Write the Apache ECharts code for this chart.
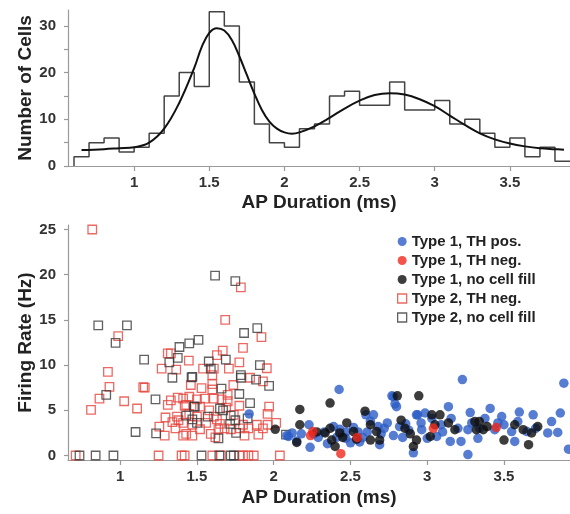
<!DOCTYPE html>
<html><head><meta charset="utf-8">
<script src="https://cdn.jsdelivr.net/npm/echarts@6/dist/echarts.min.js"></script>
<style>html,body{margin:0;padding:0;background:#fff}#c{width:570px;height:514px}</style>
</head><body><div id="c"></div>
<script>
// ---------- Histogram (top) ----------
const binStart = [0.6,0.7,0.8,0.9,1.0,1.1,1.2,1.3,1.4,1.5,1.6,1.7,1.8,1.9,2.0,2.1,2.2,2.3,2.4,2.5,2.6,2.7,2.8,2.9,3.0,3.1,3.2,3.3,3.4,3.5,3.6,3.7,3.8];
const binCounts = [2,5,6,3,4,7,15,20,17,33,30,18,9,5,4,8,9,15,16,13,13,18,12,12,14,9,10,7,4,6,2,4,1];
const binWidth = 0.1;
const fitX = [0.65,0.8,0.9,1.0,1.1,1.2,1.3,1.4,1.45,1.5,1.55,1.6,1.65,1.7,1.75,1.8,1.85,1.9,1.95,2.0,2.05,2.1,2.2,2.3,2.4,2.5,2.6,2.7,2.8,2.9,3.0,3.1,3.2,3.3,3.4,3.5,3.6,3.7,3.8,3.86];
const fitY = [3.4,3.6,3.8,4.0,5.0,8.0,13.5,21,25.5,28.5,29.5,29,27,23.5,19.5,15.5,12,9.5,8,7.2,6.9,7.2,8.5,10.3,12.3,14.0,15.2,15.6,15.3,14.3,12.8,10.8,8.8,7.0,5.7,4.8,4.2,3.8,3.6,3.5];
const histYTicks = [0,10,20,30];
const histYMinor = [0,5,10,15,20,25,30];
const xTicks = [1,1.5,2,2.5,3,3.5];
const scatterYTicks = [0,5,10,15,20,25];

// ---------- Scatter (bottom) ----------
const type1THpos = [[1.84,4.6],[2.085,2.2],[2.426,7.3],[2.096,2.1],[2.18,2.4],[2.237,0.9],[2.23,3.4],[2.29,2.0],[2.39,3.2],[2.41,2.0],[2.47,2.6],[2.5,1.4],[2.56,1.5],[2.61,2.6],[2.65,4.5],[2.68,3.2],[2.69,1.2],[2.72,3.0],[2.78,6.5],[2.8,5.4],[2.78,2.2],[2.82,3.2],[2.86,3.5],[2.93,4.5],[2.91,0.3],[2.55,2.6],[2.58,2.0],[2.33,2.6],[2.26,2.4],
 [2.938,4.5],[2.986,4.7],[2.964,2.85],[3.03,4.1],[3.062,2.1],[3.138,5.4],[3.156,4.1],[3.2,3.0],[3.15,1.55],[3.22,1.55],[3.28,4.75],[3.265,2.85],[3.29,3.6],[3.33,1.9],[3.376,4.1],[3.41,5.2],[3.44,2.85],[3.485,4.3],[3.57,1.55],[3.55,2.65],[3.59,3.75],[3.69,4.5],[3.65,2.65],[3.706,3.0],[3.785,2.5],[3.81,3.75],[3.85,2.55],[3.867,4.7],[3.265,0.1],[3.229,8.4],[3.89,8.0],[2.77,6.6],[2.79,5.7],
 [2.6,4.5],[2.63,3.8],[2.7,2.4],[2.74,3.6],[2.84,2.0],[2.88,2.8],[2.47,1.9],[2.35,1.3],[2.12,2.5],[2.15,1.6],[2.43,2.9],[2.52,3.1],[2.96,3.6],[3.0,1.9],[3.1,2.6],[3.34,3.0],[3.46,3.6],[3.09,3.4],[3.6,4.8],[3.5,3.4],[3.92,0.7]];
const type1THneg = [[2.255,2.65],[2.24,2.2],[2.437,0.2],[2.545,2.0],[3.04,3.0],[3.45,3.1]];
const type1NoFill = [[2.01,2.9],[2.17,5.1],[2.367,5.8],[2.17,3.4],[2.15,1.45],[2.335,2.5],[2.367,3.0],[2.378,1.7],[2.43,2.5],[2.476,3.6],[2.52,2.65],[2.54,1.8],[2.595,4.9],[2.63,3.4],[2.63,1.7],[2.67,2.65],[2.69,1.7],[2.805,6.6],[2.83,3.9],[2.855,3.0],[2.89,2.4],[2.93,1.7],[2.91,1.0],[2.945,6.6],[3.03,4.5],[3.083,4.5],[3.138,3.6],[3.05,3.4],[3.02,2.1],[3.18,2.85],[3.31,3.75],[3.34,3.75],[3.365,2.85],[3.32,2.85],[3.39,3.2],[3.5,1.7],[3.57,3.4],[3.625,2.85],[3.68,2.5],[3.72,3.2],[3.66,1.2],[2.45,2.0],[2.28,2.6],[2.4,1.0]];
const type2THneg = [[0.818,25.0],[0.987,13.2],[0.92,9.25],[0.93,7.6],[0.865,6.3],[0.81,5.05],[1.026,6.0],[1.11,5.2],[1.15,7.55],[1.16,7.5],[0.71,0],[1.25,0],[1.40,0],[1.42,0],[1.31,11.3],[1.33,11.3],[1.27,9.6],[1.365,9.5],[1.447,10.5],[1.295,4.2],[1.255,3.2],[1.29,2.2],[1.31,5.6],[1.33,6.1],[1.375,6.4],[1.34,3.7],[1.38,3.9],[1.36,3.0],[1.42,5.5],[1.43,2.4],[1.45,6.5],[1.46,7.8],
 [1.786,18.6],[1.684,15.0],[1.92,13.1],[1.8,11.9],[1.668,11.6],[1.63,11.1],[1.776,10.3],[1.54,9.6],[1.61,9.6],[1.708,9.6],[1.955,9.65],[1.6,8.9],[1.53,7.45],[1.6,7.9],[1.6,7.3],[1.737,7.8],[1.846,8.6],[1.93,8.2],[1.7,6.7],[1.55,6.3],[1.61,6.3],[1.41,6.3],[1.43,5.6],[1.52,5.4],[1.7,6.0],[1.776,5.5],[1.97,5.4],[1.37,4.3],[1.5,4.3],[1.61,4.3],[1.69,5.3],[1.96,4.6],[1.41,3.6],[1.47,3.4],[1.56,3.6],[1.65,3.5],[1.8,3.4],[1.89,3.4],[1.96,3.4],[2.016,3.6],[1.41,2.2],[1.47,2.2],[1.59,2.4],[1.64,2.9],[1.72,2.9],[1.78,3.0],[1.835,3.0],[1.81,2.2],[1.60,0],[1.656,0],[1.776,0],[1.80,0],[1.835,0],[1.87,0],[2.04,0],
 [1.58,5.0],[1.63,4.0],[1.68,3.0],[1.74,4.5],[1.52,2.9],[1.66,6.2],[1.5,6.2],[1.45,4.6],[1.62,2.0],[1.9,2.3],[1.93,3.0]];
const type2NoFill = [[0.735,0],[0.84,0],[0.956,0],[0.857,14.4],[1.044,14.4],[0.97,12.45],[1.156,10.6],[0.909,6.7],[1.23,6.2],[1.1,2.6],[1.234,2.45],[1.386,12.0],[1.45,12.4],[1.32,10.3],[1.375,10.8],[1.34,8.6],[1.43,4.4],[1.47,8.7],[1.48,5.4],[1.618,19.9],[1.75,19.3],[1.893,14.1],[1.807,13.55],[1.51,12.8],[1.577,10.4],[1.688,10.6],[1.59,9.6],[1.91,10.0],[1.786,8.9],[1.786,8.6],[1.885,8.4],[1.97,7.7],[1.465,8.65],[1.66,7.4],[1.776,6.8],[1.846,5.8],[1.486,5.4],[1.65,5.2],[1.67,5.0],[1.57,4.3],[1.72,4.4],[1.75,3.9],[1.716,3.5],[1.5,3.6],[1.47,4.0],[1.83,4.1],[1.64,1.9],[1.755,2.5],[1.53,0],[1.646,0],[1.72,0],[1.74,0],[2.08,2.3]];

const names = ['Type 1, TH pos.','Type 1, TH neg.','Type 1, no cell fill','Type 2, TH neg.','Type 2, no cell fill'];
const C = {blue:'#2c5cc5', red:'#f0281c', black:'#0d0d0d', sqRed:'#e6443c', sqBlack:'#3a3a3a'};

const histLine = [[binStart[0],0]];
binStart.forEach((x,i)=>histLine.push([x,binCounts[i]]));
histLine.push([binStart[binStart.length-1]+binWidth, binCounts[binCounts.length-1]]);

const FONT = 'Liberation Sans, Arial, sans-serif';
const axisLineStyle = {color:'#9a9a9a', width:1.2};
const tickLabel = {fontFamily:FONT, fontWeight:'bold', fontSize:15, color:'#333'};
const nameStyle = {fontFamily:FONT, fontWeight:'bold', fontSize:19, color:'#222'};

const chart = echarts.init(document.getElementById('c'), null, {renderer:'canvas'});
chart.setOption({
  animation:false,
  backgroundColor:'#fff',
  grid:[
    {left:68, right:0, top:10, height:156},
    {left:68, right:0, top:225, height:235}
  ],
  xAxis:[
    {gridIndex:0, type:'value', min:0.56, max:3.9, name:'AP Duration (ms)', nameLocation:'middle', nameGap:27, nameMoveOverlap:false, nameTextStyle:nameStyle,
     axisLine:{lineStyle:axisLineStyle}, splitLine:{show:false},
     axisTick:{customValues:xTicks, length:5, lineStyle:axisLineStyle},
     axisLabel:{customValues:xTicks, margin:9, ...tickLabel}},
    {gridIndex:1, type:'value', min:0.66, max:3.93, name:'AP Duration (ms)', nameLocation:'middle', nameGap:28, nameMoveOverlap:false, nameTextStyle:nameStyle,
     axisLine:{onZero:false, lineStyle:axisLineStyle}, splitLine:{show:false},
     axisTick:{customValues:xTicks, length:5, lineStyle:axisLineStyle},
     axisLabel:{customValues:xTicks, margin:9, ...tickLabel}}
  ],
  yAxis:[
    {gridIndex:0, type:'value', min:0, max:33.4, name:'Number of Cells', nameLocation:'middle', nameGap:33, nameMoveOverlap:false, nameTextStyle:nameStyle,
     axisLine:{show:true, lineStyle:axisLineStyle}, splitLine:{show:false},
     axisTick:{show:true, customValues:histYMinor, length:4, lineStyle:axisLineStyle},
     axisLabel:{customValues:histYTicks, margin:12, ...tickLabel}},
    {gridIndex:1, type:'value', min:-0.5, max:25.5, name:'Firing Rate (Hz)', nameLocation:'middle', nameGap:33, nameMoveOverlap:false, nameTextStyle:nameStyle,
     axisLine:{show:true, onZero:false, lineStyle:axisLineStyle}, splitLine:{show:false},
     axisTick:{show:true, customValues:scatterYTicks, length:4, lineStyle:axisLineStyle},
     axisLabel:{customValues:scatterYTicks, margin:12, ...tickLabel}}
  ],
  legend:{
    orient:'vertical', left:392, top:229, itemWidth:9, itemHeight:9, itemGap:4,
    textStyle:{fontFamily:FONT, fontSize:15, fontWeight:'bold', color:'#222', lineHeight:15},
    data:[
      {name:names[0], icon:'circle', itemStyle:{color:C.blue}},
      {name:names[1], icon:'circle', itemStyle:{color:C.red}},
      {name:names[2], icon:'circle', itemStyle:{color:C.black}},
      {name:names[3], icon:'rect', itemStyle:{color:'#fff', borderColor:C.sqRed, borderWidth:1.3}},
      {name:names[4], icon:'rect', itemStyle:{color:'#fff', borderColor:C.sqBlack, borderWidth:1.3}}
    ]
  },
  series:[
    {type:'line', xAxisIndex:0, yAxisIndex:0, data:histLine, step:'end', symbol:'none', lineStyle:{color:'#444', width:1.5}, silent:true},
    {type:'line', xAxisIndex:0, yAxisIndex:0, data:fitX.map((x,i)=>[x,fitY[i]]), smooth:0.4, symbol:'none', lineStyle:{color:'#111', width:2}, silent:true},
    {type:'scatter', name:names[3], xAxisIndex:1, yAxisIndex:1, data:type2THneg, symbol:'rect', symbolSize:8.5,
     itemStyle:{color:'rgba(255,255,255,0)', borderColor:C.sqRed, borderWidth:1.3}},
    {type:'scatter', name:names[4], xAxisIndex:1, yAxisIndex:1, data:type2NoFill, symbol:'rect', symbolSize:8.5,
     itemStyle:{color:'rgba(255,255,255,0)', borderColor:C.sqBlack, borderWidth:1.3}},
    {type:'scatter', name:names[0], xAxisIndex:1, yAxisIndex:1, data:type1THpos, symbol:'circle', symbolSize:9.5, itemStyle:{color:C.blue}},
    {type:'scatter', name:names[2], xAxisIndex:1, yAxisIndex:1, data:type1NoFill, symbol:'circle', symbolSize:9.5, itemStyle:{color:C.black}},
    {type:'scatter', name:names[1], xAxisIndex:1, yAxisIndex:1, data:type1THneg, symbol:'circle', symbolSize:9.5, itemStyle:{color:C.red}}
  ]
});
</script></body></html>
